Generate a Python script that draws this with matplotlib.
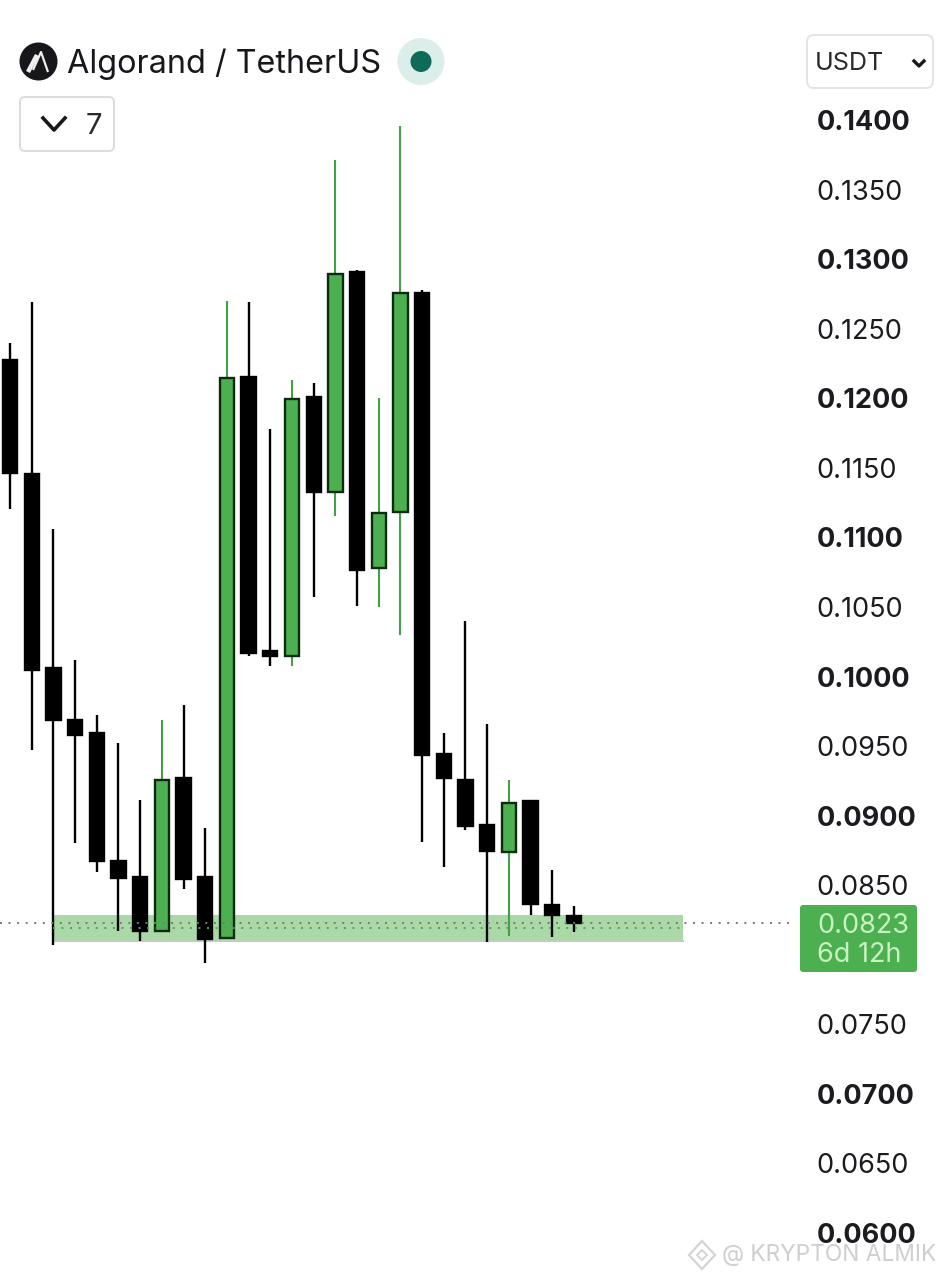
#!/usr/bin/env python3

import matplotlib
matplotlib.use("Agg")
import matplotlib.pyplot as plt
from matplotlib.patches import Circle, FancyBboxPatch, Polygon

plt.rcParams['font.family'] = ['Inter', 'DejaVu Sans']

# candle values
opens  = [0.12275, 0.11456, 0.10061, 0.09687, 0.09594, 0.08674, 0.08559, 0.08171, 0.09270,
          0.08559, 0.08120, 0.12153, 0.10183, 0.10147, 0.12009, 0.11326, 0.12907, 0.10780,
          0.11182, 0.12757, 0.09443, 0.09256, 0.08933, 0.08739, 0.09105, 0.08358, 0.08279]
highs  = [0.12397, 0.12692, 0.11060, 0.10119, 0.09723, 0.09522, 0.09112, 0.09687, 0.09795,
          0.08911, 0.12699, 0.12692, 0.11779, 0.12131, 0.12110, 0.13712, 0.12922, 0.12002,
          0.13957, 0.12778, 0.09594, 0.10399, 0.09659, 0.09256, 0.09105, 0.08609, 0.08350]
lows   = [0.11204, 0.09472, 0.08070, 0.08803, 0.08595, 0.08171, 0.08099, 0.08171, 0.08473,
          0.07941, 0.08120, 0.10147, 0.10075, 0.10075, 0.10571, 0.11154, 0.10507, 0.10500,
          0.10298, 0.08810, 0.08631, 0.08897, 0.08092, 0.08135, 0.08286, 0.08128, 0.08164]
closes = [0.11463, 0.10047, 0.09687, 0.09580, 0.08674, 0.08552, 0.08171, 0.09256, 0.08544,
          0.08113, 0.12146, 0.10169, 0.10147, 0.11995, 0.11326, 0.12893, 0.10765, 0.11175,
          0.12757, 0.09436, 0.09270, 0.08925, 0.08746, 0.09091, 0.08365, 0.08286, 0.08228]

tick_values = [0.14, 0.135, 0.13, 0.125, 0.12, 0.115, 0.11, 0.105, 0.10, 0.095, 0.09, 0.085,
               0.075, 0.07, 0.065, 0.06]
band_low, band_high = 0.08099, 0.08286
band_start, band_end = 1.98, 31.03
last_price = 0.0823
second_line = 0.0819

GREEN = "#4CAF50"
W, H = 943, 1280

fig = plt.figure(figsize=(W/100, H/100), dpi=100, facecolor="white")

# price axes, right edge sits where the labels start
ax = fig.add_axes([0, 0, 800/W, 1])
px_per_price = 13912.5
ax.set_ylim(0.14-(H-120)/px_per_price, 0.14+120/px_per_price)
step = 21.69
ax.set_xlim(-10/step, 790/step)

for s in ax.spines.values():
  s.set_visible(False)
ax.xaxis.set_visible(False)
ax.yaxis.tick_right()
ax.set_yticks(tick_values)
ax.set_yticklabels(["{:.4f}".format(v) for v in tick_values])
ax.tick_params(axis="y", length=0, pad=12, labelsize=19.5, labelcolor="#1c1c20")
for v, lab in zip(tick_values, ax.get_yticklabels()):
  if round(v*1000) % 10 == 0:
    lab.set_fontweight("bold")

ax.fill_between([band_start, band_end], band_low, band_high, color="#aad9a7", lw=0, zorder=1)
ax.plot([band_start, band_end], [band_low, band_low], color="#bcd0bb", lw=1.5, zorder=1)

for i in range(len(opens)):
  up = closes[i] > opens[i]
  ax.vlines(i, lows[i], highs[i], color="#43a047" if up else "black", lw=1.5 if up else 1.7, zorder=2)
  ax.bar(i, abs(closes[i]-opens[i]), bottom=min(opens[i], closes[i]), width=0.66,
         color=GREEN if up else "black", edgecolor="#0b2a10" if up else "black", lw=1.7, zorder=3)

ax.plot([-0.46, 36.2], [last_price, last_price], color="#6f7f6f", lw=1.4,
        ls=(0, (1, 3.4)), zorder=4)
ax.plot([band_start, band_end], [second_line, second_line], color="#5f9a5c", lw=1.4,
        ls=(0, (1, 3.4)), zorder=4)

# chrome on top, in pixels
ov = fig.add_axes([0, 0, 1, 1])
ov.set_xlim(0, W)
ov.set_ylim(H, 0)
ov.axis("off")
ov.patch.set_alpha(0)

ov.add_patch(Circle((38.5, 61.5), 19, color="#17171c", lw=0))
ov.plot([28, 37], [72, 55], color="#eeeeee", lw=3.2, solid_capstyle="butt")
ov.plot([33, 41, 48], [70, 52, 72], color="#eeeeee", lw=1.6, solid_capstyle="butt")
ov.text(67, 64, "Algorand / TetherUS", fontsize=23.3, color="#17171c", va="center", ha="left")
ov.add_patch(Circle((421, 61.5), 23.5, color="#dceeea", lw=0))
ov.add_patch(Circle((421, 61.5), 10.5, color="#0e6b58", lw=0))

ov.add_patch(FancyBboxPatch((20, 97), 94, 54, boxstyle="round,pad=0,rounding_size=5",
                            fc="white", ec="#dcdcdc", lw=1.4))
ov.plot([43, 54, 65], [118, 130, 118], color="#17171c", lw=2.6)
ov.text(86, 126, "7", fontsize=21, color="#2a2a2e", va="center", ha="left")

ov.add_patch(FancyBboxPatch((807, 35), 126, 53, boxstyle="round,pad=0,rounding_size=7",
                            fc="white", ec="#e4e4e4", lw=1.4))
ov.text(815, 64, "USDT", fontsize=18, color="#2a2a2e", va="center", ha="left")
ov.plot([914, 919, 924], [61, 66, 61], color="#17171c", lw=2.4)

ov.add_patch(FancyBboxPatch((800, 905), 117, 67, boxstyle="round,pad=0,rounding_size=3",
                            fc=GREEN, ec="none"))
ov.text(817, 926, "0.0823", fontsize=19.5, color="#c8f2c2", va="center", ha="left")
ov.text(817, 955, "6d 12h", fontsize=19.5, color="#c8f2c2", va="center", ha="left")

# watermark
ov.add_patch(Polygon([(702, 1241), (715, 1255), (702, 1269), (689, 1255)], closed=True,
                     fc="none", ec="#d4d4d4", lw=1.6))
ov.add_patch(Polygon([(702, 1250), (707, 1255), (702, 1260), (697, 1255)], closed=True,
                     fc="none", ec="#d4d4d4", lw=1.4))
ov.text(722, 1255, "@ KRYPTON ALMIK", fontsize=16.4, color="#cfcfcf", va="center", ha="left")

fig.savefig("out.png", dpi=100)
